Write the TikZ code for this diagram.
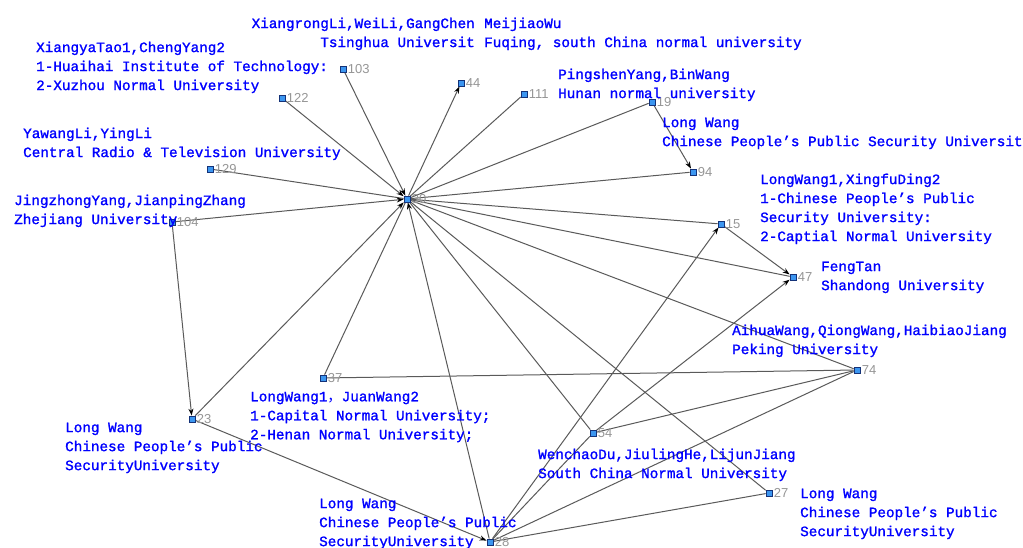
\documentclass[tikz,border=0pt]{standalone}
\usepackage{fontspec}
\newfontfamily\lbf[FakeBold=1.3]{Liberation Mono}
\newfontfamily\cjkf{Noto Sans CJK SC}
\newfontfamily\numf{Liberation Sans}
\usetikzlibrary{arrows.meta}
\pgfdeclarelayer{bg}
\pgfsetlayers{bg,main}
\definecolor{lblue}{RGB}{0,0,255}
\definecolor{numgray}{RGB}{150,150,150}
\definecolor{edgegray}{RGB}{90,90,90}
\definecolor{ndfill}{RGB}{60,150,240}
\definecolor{nddraw}{RGB}{20,50,120}
\tikzset{
 nd/.style={draw=nddraw, fill=ndfill, line width=0.8pt, minimum size=6pt, inner sep=0pt, rectangle},
 num/.style={font=\numf\fontsize{13}{15}\selectfont, text=numgray, inner sep=1pt, anchor=west},
 lbl/.style={font=\lbf\fontsize{14.3}{19}\selectfont, text=lblue, align=left, inner sep=0pt, anchor=north west},
 lblr/.style={lbl, align=right, anchor=north east},
 edge/.style={draw=edgegray, line width=1pt},
 arr/.style={edge, -{Stealth[length=7pt,width=5pt,black]}},
}
\newcommand\vtx[3]{\node[nd] (n#1) at (#2,#3) {}; \node[num] (t#1) at ([xshift=0.3pt]n#1.east) {#1};}
\begin{document}
\begin{tikzpicture}[x=1pt,y=-1pt]
\useasboundingbox (0,0) rectangle (1023,548);
% vertices
\vtx{30}{407}{199}
\vtx{103}{343}{69}
\vtx{44}{461}{83}
\vtx{111}{524}{94}
\vtx{19}{652}{102}
\vtx{94}{693}{172}
\vtx{122}{282}{98}
\vtx{129}{210}{169}
\vtx{104}{172}{222}
\vtx{15}{721}{224}
\vtx{47}{793}{277}
\vtx{54}{593}{433}
\vtx{74}{857}{370}
\vtx{37}{323}{378}
\vtx{23}{192}{419}
\vtx{28}{490}{542}
\vtx{27}{769}{493}
% edges
\begin{pgfonlayer}{bg}
\fill[white] (0,0) rectangle (1023,548);
\draw[arr] (n103) -- (n30);
\draw[arr] (n30) -- (n44);
\draw[edge] (n111) -- (n30);
\draw[arr] (n122) -- (n30);
\draw[edge] (n129) -- (n30);
\draw[arr] (n104) -- (n30);
\draw[edge] (n19) -- (n30);
\draw[arr] (n19) -- (n94);
\draw[edge] (n30) -- (n94);
\draw[edge] (n30) -- (n15);
\draw[edge] (n30) -- (n47);
\draw[edge] (n30) -- (n74);
\draw[edge] (n30) -- (n54);
\draw[edge] (n30) -- (n27);
\draw[arr] (n28) -- (n30);
\draw[edge] (n37) -- (n30);
\draw[arr] (n23) -- (n30);
\draw[arr] (n15) -- (n47);
\draw[arr] (n54) -- (n47);
\draw[edge] (n54) -- (n74);
\draw[arr] (n28) -- (n15);
\draw[edge] (n28) -- (n54);
\draw[edge] (n28) -- (n74);
\draw[edge] (n28) -- (n27);
\draw[edge] (n37) -- (n74);
\draw[arr] (n104) -- (n23);
\draw[arr] (n23) -- (n28);
\end{pgfonlayer}
% labels
\node[lbl] (L1) at (36,41.5) {XiangyaTao1,ChengYang2\\1-Huaihai Institute of Technology:\\2-Xuzhou Normal University};
\node[lblr] (L2) at (475,17.5) {XiangrongLi,WeiLi,GangChen\\Tsinghua Universit};
\node[lbl] (L3) at (484,17.5) {MeijiaoWu\\Fuqing, south China normal university};
\node[lbl] (L4) at (558,68.5) {PingshenYang,BinWang\\Hunan normal university};
\node[lbl] (L5) at (662,117.5) {Long Wang\\Chinese People’s Public Security University};
\node[lbl] (L6) at (760,173.5) {LongWang1,XingfuDing2\\1-Chinese People’s Public\\Security University:\\2-Captial Normal University};
\node[lbl] (L7) at (821,261.5) {FengTan\\Shandong University};
\node[lbl] (L8) at (732,324.5) {AihuaWang,QiongWang,HaibiaoJiang\\Peking University};
\node[lbl] (L9) at (23,127.5) {YawangLi,YingLi\\Central Radio \& Television University};
\node[lbl] (L10) at (14,194.5) {JingzhongYang,JianpingZhang\\Zhejiang University};
\node[lbl] (L11) at (250,391.5) {LongWang1{\cjkf ，}JuanWang2\\1-Capital Normal University;\\2-Henan Normal University;};
\node[lbl] (L12) at (65,422.5) {Long Wang\\Chinese People’s Public\\SecurityUniversity};
\node[lbl] (L13) at (319,498.5) {Long Wang\\Chinese People’s Public\\SecurityUniversity};
\node[lbl] (L14) at (538,448.5) {WenchaoDu,JiulingHe,LijunJiang\\South China Normal University};
\node[lbl] (L15) at (800,488.5) {Long Wang\\Chinese People’s Public\\SecurityUniversity};
\end{tikzpicture}
\end{document}
